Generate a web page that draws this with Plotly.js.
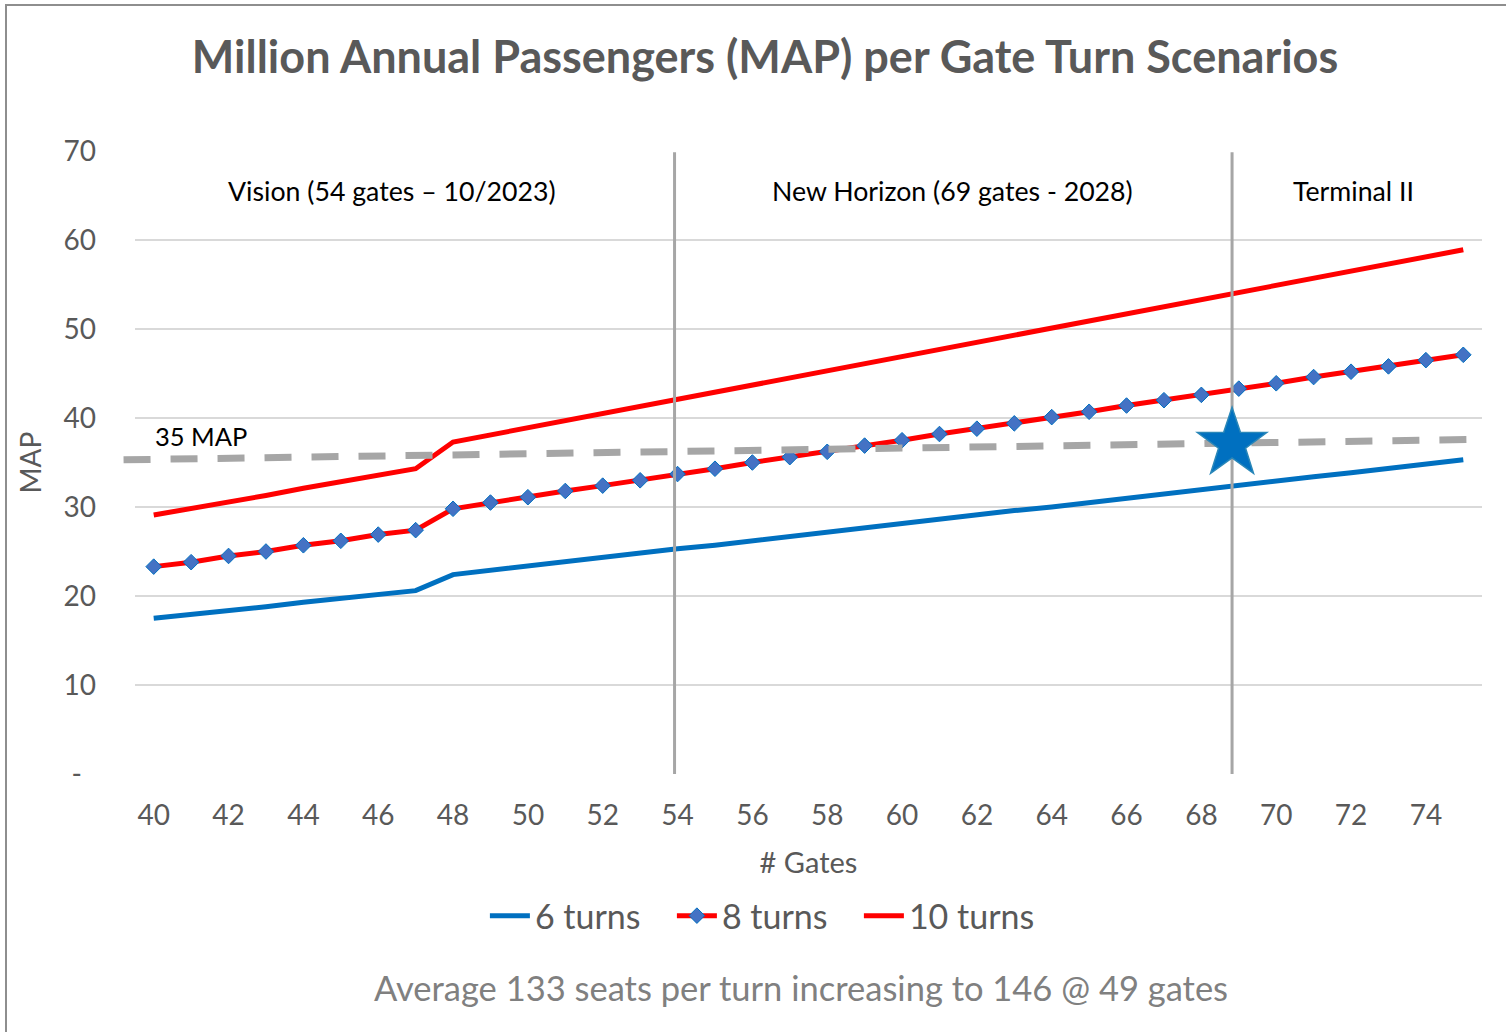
<!DOCTYPE html>
<html>
<head>
<meta charset="utf-8">
<script src="https://cdn.plot.ly/plotly-3.0.1.min.js"></script>
<style>
  html, body { margin: 0; padding: 0; background: #fff; }
  #wrap { position: relative; width: 1506px; height: 1032px; overflow: hidden; }
  #chart { position: absolute; left: 0; top: 0; width: 1506px; height: 1032px; }
  #frame { position: absolute; left: 5px; top: 4px; width: 3000px; height: 3000px;
           border-left: 2px solid #8E8E8E; border-top: 2px solid #8E8E8E; pointer-events: none; }
</style>
</head>
<body>
<div id="wrap">
  <div id="chart"></div>
  <div id="frame"></div>
</div>
<script>
// ---- data ----
const gates = [40,41,42,43,44,45,46,47,48,49,50,51,52,53,54,55,56,57,58,59,60,61,62,63,64,65,66,67,68,69,70,71,72,73,74,75];

const turns6 = [17.5,17.9,18.4,18.8,19.3,19.7,20.2,20.6,22.4,22.9,23.3,23.8,24.3,24.8,25.3,25.7,
                26.2,26.7,27.2,27.6,28.1,28.6,29.1,29.6,30.0,30.5,31.0,31.5,31.9,32.4,32.9,33.4,33.85,34.35,34.85,35.3];

const turns8 = [23.3,23.8,24.5,25.0,25.7,26.2,26.9,27.4,29.8,30.5,31.1,31.8,32.4,33.0,33.7,34.3,
                35.0,35.6,36.2,36.9,37.5,38.2,38.8,39.4,40.1,40.7,41.4,42.0,42.6,43.3,43.9,44.6,45.2,45.8,46.5,47.1];

const turns10 = [29.1,29.8,30.6,31.3,32.1,32.8,33.6,34.3,37.3,38.1,38.9,39.7,40.5,41.3,42.1,42.9,
                 43.7,44.5,45.3,46.1,46.9,47.7,48.5,49.3,50.1,50.9,51.7,52.5,53.3,54.1,54.9,55.7,56.5,57.3,58.1,58.9];

const seriesNames = ["6 turns", "8 turns", "10 turns"];

const xTickVals = [40,42,44,46,48,50,52,54,56,58,60,62,64,66,68,70,72,74];
const yTickVals = [0,10,20,30,40,50,60,70];
const yTickText = ["-\u2002","10","20","30","40","50","60","70"];

// phase boundaries (gate positions of the vertical dividers)
const phaseBoundaries = [53.92, 68.82];
const phaseLabels = ["Vision (54 gates \u2013 10/2023)", "New Horizon (69 gates - 2028)", "Terminal II"];
const phaseLabelX = [46.38, 61.36, 72.07];
const phaseLabelY = 65.5;

// 35 MAP reference (dashed) line: start / end values
const mapRefLabel = "35 MAP";
const mapRefStart = 35.3;
const mapRefEnd = 37.6;

// star marker
const starGate = 68.82;
const starMAP = 37.1;

const titleText = "Million Annual Passengers (MAP) per Gate Turn Scenarios";
const xTitle = "# Gates";
const yTitle = "MAP";
const footnote = "Average 133 seats per turn increasing to 146 @ 49 gates";

// ---- styling ----
const FONT = "Lato, 'Open Sans', sans-serif";
const GRAY_TXT = "#595959";

function starPath(R, r) {
  const pts = [];
  for (let i = 0; i < 10; i++) {
    const a = Math.PI / 2 + i * Math.PI / 5;
    const rad = (i % 2) ? r : R;
    pts.push([rad * Math.cos(a), rad * Math.sin(a)]);
  }
  return "M" + pts.map(p => p[0].toFixed(2) + "," + p[1].toFixed(2)).join("L") + "Z";
}

const traces = [
  { x: gates, y: turns6, name: seriesNames[0], type: "scatter", mode: "lines",
    line: { color: "#0070C0", width: 5 } },
  { x: gates, y: turns8, name: seriesNames[1], type: "scatter", mode: "lines+markers",
    line: { color: "#FF0000", width: 5 },
    marker: { symbol: "diamond", size: 12, color: "#4472C4", line: { color: "#0070C0", width: 1 } } },
  { x: gates, y: turns10, name: seriesNames[2], type: "scatter", mode: "lines",
    line: { color: "#FF0000", width: 5 } }
];

const shapes = [];
phaseBoundaries.forEach(g => {
  shapes.push({ type: "line", xref: "x", yref: "y", x0: g, x1: g, y0: -0.35, y1: 69.85,
                line: { color: "#A6A6A6", width: 3 }, layer: "above" });
});
shapes.push({ type: "line", xref: "paper", yref: "y", x0: -0.0085, x1: 1.0008,
              y0: mapRefStart, y1: mapRefEnd,
              line: { color: "#A6A6A6", width: 7, dash: "27px,20px" }, layer: "above" });
shapes.push({ type: "path", xref: "x", yref: "y", xsizemode: "pixel", ysizemode: "pixel",
              xanchor: starGate, yanchor: starMAP, path: starPath(36.5, 14.2),
              fillcolor: "#0070C0", line: { color: "#2A87B8", width: 1.5 }, layer: "above" });

const annotations = [];
phaseLabels.forEach((t, i) => {
  annotations.push({ text: t, x: phaseLabelX[i], y: phaseLabelY, xref: "x", yref: "y",
                     showarrow: false, xanchor: "center", yanchor: "middle",
                     font: { family: FONT, size: 26.7, color: "#000000" } });
});
annotations.push({ text: mapRefLabel, x: 39.99, y: 38.0, xref: "x", yref: "y", showarrow: false,
                   xanchor: "left", yanchor: "middle", font: { family: FONT, size: 25.5, color: "#000000" } });
annotations.push({ text: footnote, x: 0.4946, y: -0.342, xref: "paper", yref: "paper", showarrow: false,
                   xanchor: "center", yanchor: "middle", font: { family: FONT, size: 34.5, color: "#808080" } });

const layout = {
  width: 1506, height: 1032,
  margin: { l: 135, r: 24, t: 151, b: 258 },
  paper_bgcolor: "rgba(0,0,0,0)", plot_bgcolor: "#ffffff",
  font: { family: FONT, color: GRAY_TXT },
  title: { text: "<b>" + titleText + "</b>", x: 0.508, xref: "container", xanchor: "center",
           y: 1 - 57 / 1032, yref: "container", yanchor: "middle",
           font: { family: FONT, size: 45, color: GRAY_TXT } },
  xaxis: {
    range: [39.5, 75.5], tickmode: "array", tickvals: xTickVals, ticks: "",
    showgrid: false, zeroline: false, showline: false, ticklabelstandoff: 22,
    tickfont: { family: FONT, size: 28, color: GRAY_TXT },
    title: { text: xTitle, standoff: 22, font: { family: FONT, size: 29, color: GRAY_TXT } }
  },
  yaxis: {
    range: [0, 70], tickmode: "array", tickvals: yTickVals, ticktext: yTickText, ticks: "",
    showgrid: true, gridcolor: "#D9D9D9", gridwidth: 1.5, zeroline: false, showline: false,
    ticklabelstandoff: 38,
    tickfont: { family: FONT, size: 28, color: GRAY_TXT },
    title: { text: yTitle, standoff: 13, font: { family: FONT, size: 28, color: GRAY_TXT } }
  },
  showlegend: true,
  legend: { orientation: "h", x: 0.468, xanchor: "center", y: -0.228, yanchor: "middle",
            font: { family: FONT, size: 34, color: GRAY_TXT }, itemwidth: 40, tracegroupgap: 0,
            entrywidth: 132, entrywidthmode: "pixels",
            bgcolor: "rgba(0,0,0,0)" },
  shapes: shapes,
  annotations: annotations
};

Plotly.newPlot("chart", traces, layout, { displayModeBar: false, staticPlot: true });
</script>
</body>
</html>
